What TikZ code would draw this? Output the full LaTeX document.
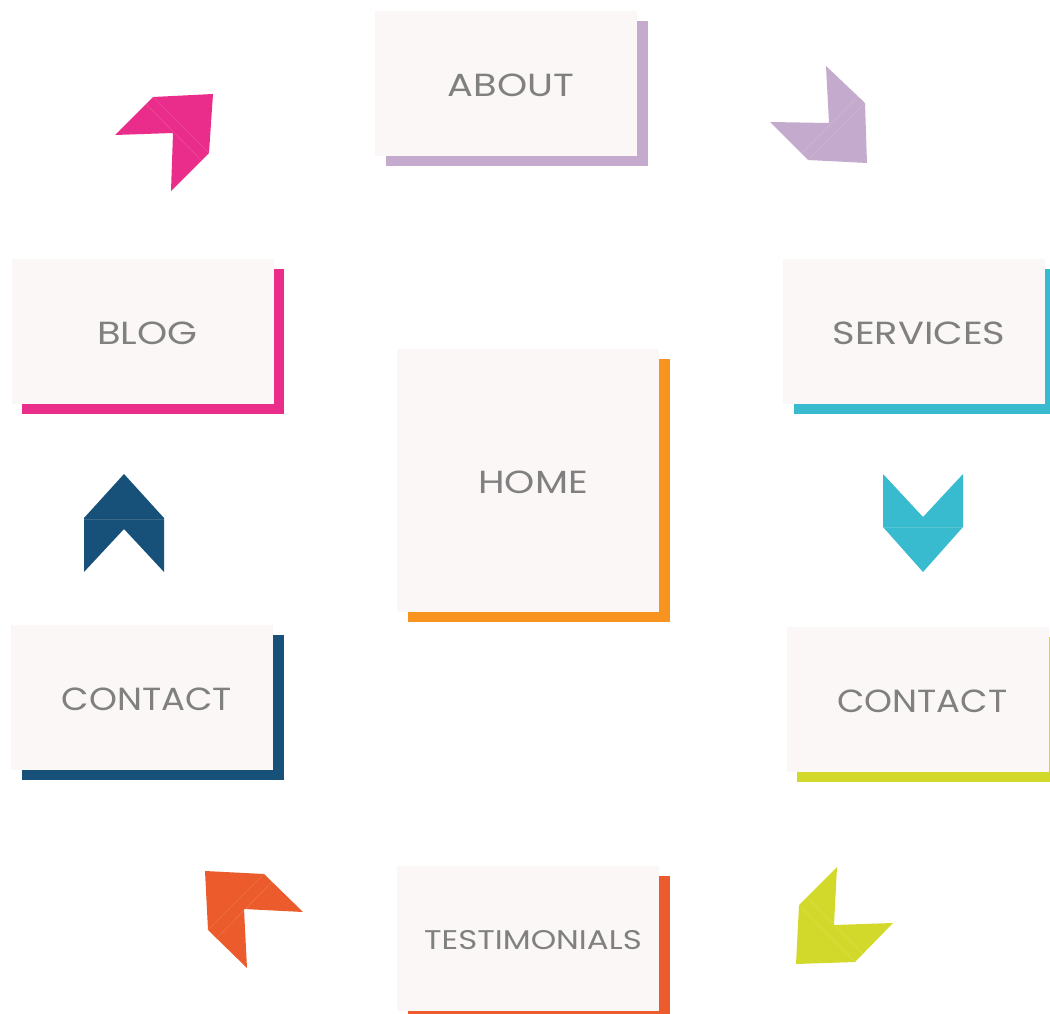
\documentclass[tikz,border=0pt]{standalone}
\usepackage{fontspec}
\setmainfont[FakeStretch=1.2]{Poppins}
\newfontfamily\narrowfont[FakeStretch=1.11]{Poppins}
\usetikzlibrary{shadows}
\definecolor{lav}{HTML}{C4AACC}
\definecolor{pnk}{HTML}{EA2D8A}
\definecolor{cyn}{HTML}{38BBCE}
\definecolor{org}{HTML}{F7931E}
\definecolor{nvy}{HTML}{175078}
\definecolor{lim}{HTML}{D2D92B}
\definecolor{red}{HTML}{EB5B2B}
\definecolor{boxfill}{HTML}{FAF7F6}
\definecolor{txt}{HTML}{808080}
\tikzset{
  box/.style={rectangle, fill=boxfill, minimum width=262, minimum height=145, inner sep=0,
    drop shadow={shadow xshift=10.5pt, shadow yshift=-10pt, fill=#1, opacity=1}},
  lbl/.style={text=txt, font=\fontsize{32}{36}\selectfont, xshift=5, yshift=-2},
  fold/.style={draw=white, draw opacity=0.15, line width=0.6},
}
\begin{document}
\begin{tikzpicture}[x=1pt,y=-1pt]
\useasboundingbox[fill=white] (0,0) rectangle (1050,1014);
% boxes
\node[box=lav, label={[lbl]center:ABOUT}] (about) at (506,83.5) {};
\node[box=pnk, label={[lbl]center:BLOG}] (blog) at (142.5,331.5) {};
\node[box=cyn, label={[lbl]center:SERVICES}] (services) at (914,331.5) {};
\node[box=org, minimum height=263, label={[lbl]center:HOME}] (home) at (528,480.5) {};
\node[box=nvy, label={[lbl, font=\narrowfont\fontsize{32}{36}\selectfont]center:CONTACT}] (contactl) at (142,697.5) {};
\node[box=lim, label={[lbl, font=\narrowfont\fontsize{32}{36}\selectfont]center:CONTACT}] (contactr) at (917.5,699.5) {};
\node[box=red, label={[lbl, font=\fontsize{27}{32}\selectfont]center:TESTIMONIALS}] (testi) at (528,938.5) {};
% arrows
% pink, up-right
\fill[pnk] (153,97) -- (213,94) -- (209,153) -- (171,191) -- (173,133) -- (115,135) -- cycle;
\path[fold] (153,97) -- (209,153) (146,104) -- (201,160);
% lavender, down-right
\fill[lav] (826,66) -- (865,103) -- (867,163) -- (808,160) -- (770,122) -- (829,123) -- cycle;
\path[fold] (865,103) -- (808,160) (858,96) -- (802,153);
% navy, up
\fill[nvy] (124,474) -- (164,518) -- (164,572) -- (124,529) -- (84,572) -- (84,518) -- cycle;
\path[fold] (84,519) -- (164,519);
% cyan, down
\fill[cyn] (883,474) -- (923,517) -- (963,474) -- (963,527) -- (923,572) -- (883,527) -- cycle;
\path[fold] (883,527) -- (963,527);
% orange-red, up-left
\fill[red] (205,871) -- (264,874) -- (303,912) -- (244,909) -- (247,968) -- (208,930) -- cycle;
\path[fold] (264,874) -- (208,930) (272,882) -- (217,938);
% lime, down-left
\fill[lim] (837,867) -- (834,925) -- (893,923) -- (855,962) -- (796,964) -- (799,905) -- cycle;
\path[fold] (799,905) -- (855,962) (807,897) -- (863,954);
\end{tikzpicture}
\end{document}
